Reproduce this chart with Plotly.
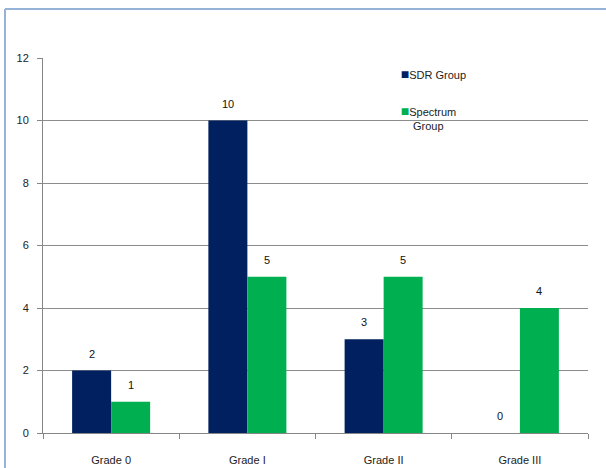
import plotly.graph_objects as go

categories = ["Grade 0", "Grade I", "Grade II", "Grade III"]
sdr_values = [2, 10, 3, 0]
spectrum_values = [1, 5, 5, 4]
series_names = ["SDR Group", "Spectrum<br>\u00a0\u00a0\u00a0\u00a0Group"]
series_colors = ["#002060", "#00B050"]
y_ticks = [0, 2, 4, 6, 8, 10, 12]

font = dict(family="Liberation Sans, Arial, sans-serif", size=11, color="#222222")
bar_px = 39  # approx bar width in pixels, for label offsets

fig = go.Figure()
for vals, name, col in [(sdr_values, series_names[0], series_colors[0]),
                        (spectrum_values, series_names[1], series_colors[1])]:
    fig.add_trace(go.Bar(x=categories, y=vals, name=name, showlegend=False,
                         marker=dict(color=col, line=dict(width=0))))
    # legend proxy: coloured square glyph placed tight against the text
    fig.add_trace(go.Scatter(x=[None], y=[None], mode="markers",
                             name=f"<span style='color:{col};font-size:14px'>\u25A0</span>{name}",
                             marker=dict(symbol="square", size=8, color="rgba(0,0,0,0)"),
                             legendgroup=name))

annotations = []
for vals, shift in [(sdr_values, -bar_px / 2), (spectrum_values, bar_px / 2)]:
    for c, v in zip(categories, vals):
        annotations.append(dict(x=c, y=v, xref="x", yref="y", text=str(v),
                                showarrow=False, xshift=shift, yshift=17,
                                font=dict(family=font["family"], size=11, color="#111111")))

fig.update_layout(
    width=606, height=468,
    margin=dict(l=43, r=18, t=58, b=35),
    paper_bgcolor="white", plot_bgcolor="white",
    font=font,
    barmode="group", bargap=0.4275, bargroupgap=0,
    showlegend=True,
    legend=dict(x=0.583, y=0.993, xanchor="left", yanchor="top",
                bgcolor="rgba(0,0,0,0)", font=font, tracegroupgap=18,
                itemwidth=30, traceorder="grouped", valign="top"),
    xaxis=dict(showline=True, linecolor="#868686", linewidth=1,
               ticks="outside", ticklen=5, tickcolor="#868686",
               tickson="boundaries", ticklabelstandoff=17, showgrid=False,
               automargin=False),
    yaxis=dict(range=[0, 12], tickvals=y_ticks, showline=True, linecolor="#868686",
               linewidth=1, ticks="outside", ticklen=5, tickcolor="#868686",
               showgrid=True, gridcolor="#8c8c8c", gridwidth=1, zeroline=False,
               ticklabelstandoff=6, automargin=False),
    annotations=annotations,
    shapes=[
        dict(type="line", xref="paper", yref="paper", x0=-0.0697, x1=1.05,
             y0=1.1307, y1=1.1307, line=dict(color="#95B3D7", width=2)),
        dict(type="line", xref="paper", yref="paper", x0=-0.0697, x1=-0.0697,
             y0=1.1307, y1=-0.1, line=dict(color="#95B3D7", width=2)),
    ],
)

fig.write_html("out.html")
